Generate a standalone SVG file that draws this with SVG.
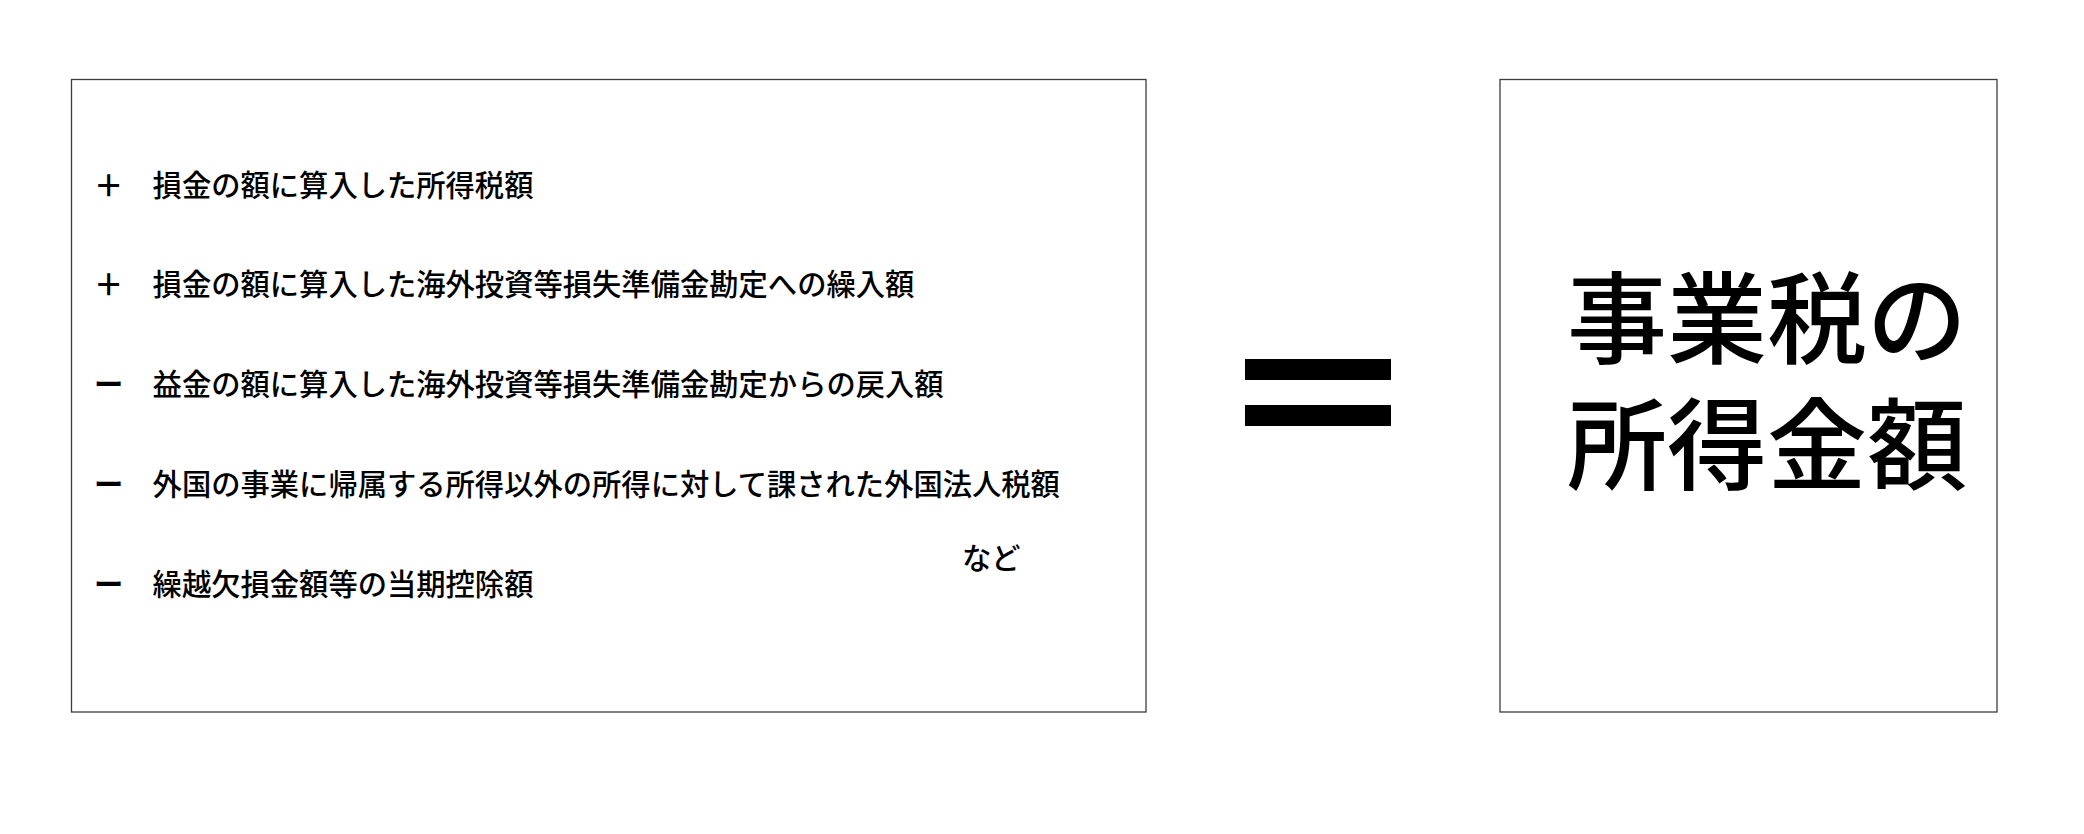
<svg xmlns="http://www.w3.org/2000/svg" width="2084" height="834" viewBox="0 0 2084 834">
<style>
.box{fill:#ffffff;stroke:#3c3c3c;stroke-width:1.3}
.item{font-family:"Noto Sans CJK JP","Noto Sans CJK SC",sans-serif;font-size:29.3px;font-weight:500;fill:#000}
.sign{font-weight:700}
.big{font-family:"Noto Sans CJK JP","Noto Sans CJK SC",sans-serif;font-size:100px;font-weight:500;fill:#000}
.bar{fill:#000}
</style>
<rect width="2084" height="834" fill="#ffffff"/>
<g id="adjustments">
<rect class="box" x="71.5" y="79.5" width="1074.5" height="632.5"/>
<text class="item" x="94" y="196"><tspan class="sign">＋</tspan>　損金の額に算入した所得税額</text>
<text class="item" x="94" y="295"><tspan class="sign">＋</tspan>　損金の額に算入した海外投資等損失準備金勘定への繰入額</text>
<text class="item" x="94" y="395"><tspan class="sign">ー</tspan>　益金の額に算入した海外投資等損失準備金勘定からの戻入額</text>
<text class="item" x="94" y="495"><tspan class="sign">ー</tspan>　外国の事業に帰属する所得以外の所得に対して課された外国法人税額</text>
<text class="item" x="94" y="595"><tspan class="sign">ー</tspan>　繰越欠損金額等の当期控除額</text>
<text class="item" x="962" y="569">など</text>
</g>
<g id="equals">
<rect class="bar" x="1245" y="359" width="146" height="21"/>
<rect class="bar" x="1245" y="405" width="146" height="21"/>
</g>
<g id="result">
<rect class="box" x="1500" y="79.5" width="497" height="632.5"/>
<text class="big"><tspan x="1567" y="356">事業税の</tspan><tspan x="1567" y="482">所得金額</tspan></text>
</g>
<g id="connectors"/>
</svg>
